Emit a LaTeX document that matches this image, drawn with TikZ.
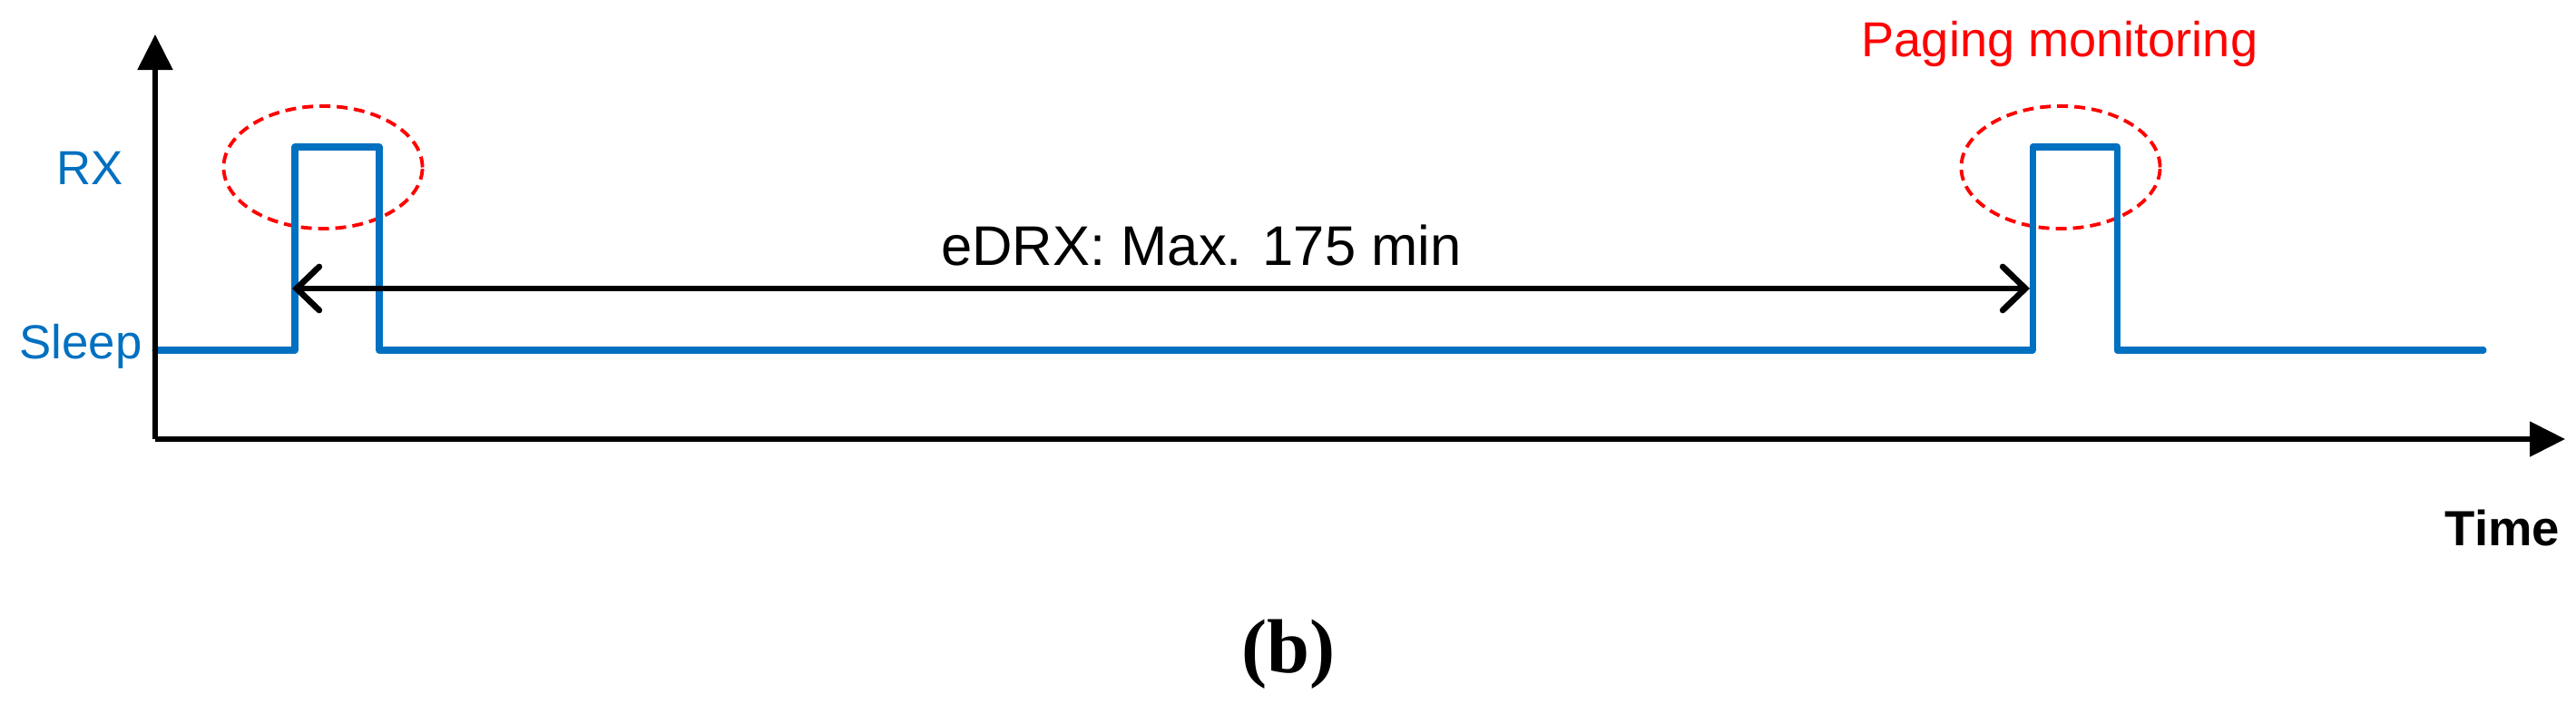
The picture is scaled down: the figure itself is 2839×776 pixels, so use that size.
\documentclass[tikz,border=0pt]{standalone}
\usepackage{fontspec}
\setmainfont{Liberation Sans}
\newfontfamily\capfont{Liberation Serif}
\usetikzlibrary{arrows.meta,shapes.geometric}
\definecolor{sigblue}{RGB}{0,112,192}
\tikzstyle{signal} = [draw=sigblue, line width=2pt, line join=round, line cap=round]
\tikzstyle{axis} = [draw, line width=1.5pt, -{Triangle[length=0.39cm, width=0.38cm]}]
\tikzstyle{span} = [draw, line width=1.9pt, line cap=round,
    {Straight Barb[length=0.25cm, width=0.48cm, line cap=round]}-{Straight Barb[length=0.25cm, width=0.48cm, line cap=round]}]
\tikzstyle{watch} = [ellipse, draw=red, line width=1.1pt, dash pattern=on 3.4pt off 2pt,
    inner sep=0pt, minimum width=2.19cm, minimum height=1.35cm]
\tikzstyle{level} = [anchor=base, text=sigblue, font=\fontsize{15}{18}\selectfont]

\begin{document}
\begin{tikzpicture}[x=0.01cm, y=-0.01cm]
		\useasboundingbox (0,0) rectangle (2839,776);
		\coordinate (origin) at (171,484);
		\coordinate (ytop) at (171,38);
		\coordinate (xend) at (2827,484);
		\coordinate (high) at (171,162);
		\coordinate (start) at (171,386);
		\coordinate (rise1) at (325,386);
		\coordinate (fall1) at (418,386);
		\coordinate (rise2) at (2240,386);
		\coordinate (fall2) at (2333,386);
		\coordinate (stop) at (2737,386);
		\coordinate (mark1) at (322,318);
		\coordinate (mark2) at (2237,318);

		\node [level] (rx) at (99,204) {RX};
		\node [level] (sleep) at (89,395) {Sleep};
		\node [watch] (watch1) at (356,184.5) {};
		\node [watch] (watch2) at (2271,184.5) {};
		\node [anchor=base, font=\fontsize{17.5}{21}\selectfont] (edrx) at (1324,293) {eDRX: Max. 175 min};
		\node [anchor=base, text=red, font=\fontsize{15.4}{18}\selectfont] (paging) at (2270,63) {Paging monitoring};
		\node [anchor=base, font=\bfseries\fontsize{15.5}{18}\selectfont] (time) at (2758,601) {Time};
		\node [anchor=base, font=\capfont\bfseries\fontsize{24}{28}\selectfont] (caption) at (1420,741) {(b)};

		\path [signal] (start) -- (rise1) -- (rise1 |- high) -- (fall1 |- high) -- (fall1)
			-- (rise2) -- (rise2 |- high) -- (fall2 |- high) -- (fall2) -- (stop);
		\path [span] (mark1) -- (mark2);
		\path [axis] (origin) -- (ytop);
		\path [axis] (origin) -- (xend);
	\end{tikzpicture}
\end{document}
